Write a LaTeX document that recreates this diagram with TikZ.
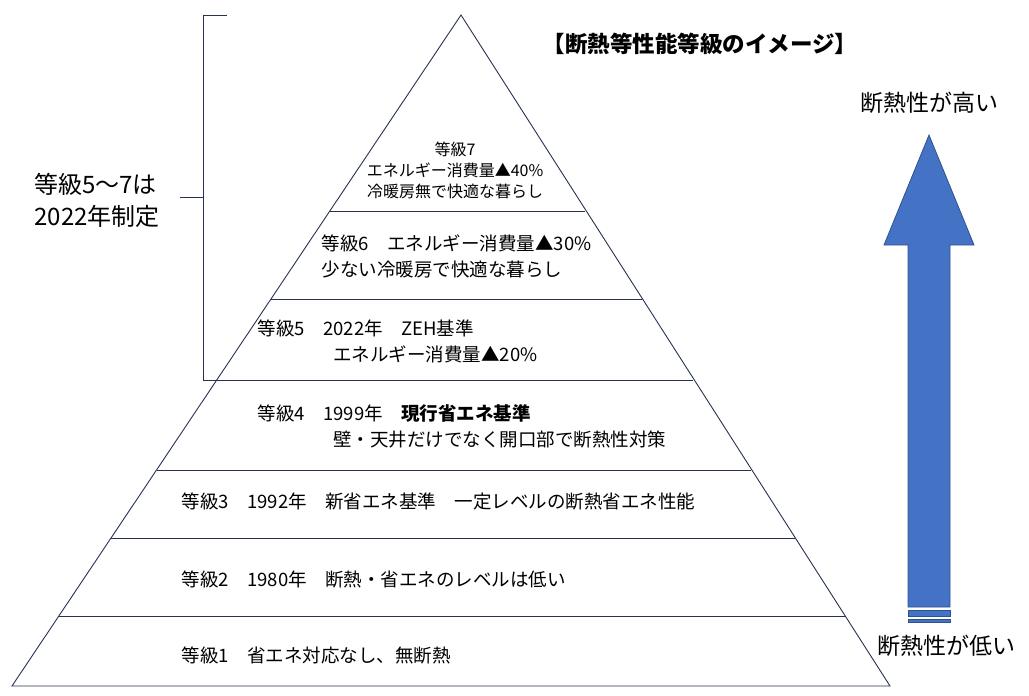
\documentclass[tikz,border=0pt]{standalone}
\usepackage{fontspec}
\setmainfont{Noto Sans CJK JP}
\begin{document}
\begin{tikzpicture}[x=1pt,y=-1pt,
  layer/.style={draw={rgb,255:red,40;green,50;blue,80},line width=0.9pt},
  txt/.style={font=\fontsize{18.5}{26}\selectfont,align=left,anchor=west},
  arr/.style={fill={rgb,255:red,68;green,114;blue,196},draw={rgb,255:red,47;green,82;blue,143},line width=0.8pt}]
\useasboundingbox (0,0) rectangle (1029,696);
% pyramid
\coordinate (top) at (461,15);
\coordinate (bl) at (12,686);
\coordinate (br) at (890,686);
\draw[layer] (top)--(br)--(bl)--cycle;
\draw[layer] (330,211)--(585,211);
\draw[layer] (271,299)--(642,299);
\draw[layer] (217,380)--(693,380);
\draw[layer] (157,470)--(751,470);
\draw[layer] (111,538)--(795,538);
\draw[layer] (59,616)--(845,616);
% labels
\node[txt,align=center,anchor=center,font=\fontsize{16}{21}\selectfont] (g7) at (455,170) {等級7\\エネルギー消費量▲40\%\\冷暖房無で快適な暮らし};
\node[txt] (g6) at (318,256) {等級6\quad エネルギー消費量▲30\%\\少ない冷暖房で快適な暮らし};
\node[txt] (g5) at (254,341) {等級5\quad 2022年\quad ZEH基準\\\hspace{4.1em}エネルギー消費量▲20\%};
\node[txt] (g4) at (254,426) {等級4\quad 1999年\quad \textbf{現行省エネ基準}\\\hspace{4.1em}壁・天井だけでなく開口部で断熱性対策};
\node[txt] (g3) at (178,502) {等級3\quad 1992年\quad 新省エネ基準\quad 一定レベルの断熱省エネ性能};
\node[txt] (g2) at (178,580) {等級2\quad 1980年\quad 断熱・省エネのレベルは低い};
\node[txt] (g1) at (178,656) {等級1\quad 省エネ対応なし、無断熱};
% bracket
\draw[layer] (227,15)--(203,15)--(203,380)--(217,380);
\draw[layer] (180,197)--(203,197);
\node[font=\fontsize{24}{32}\selectfont,align=left] (note) at (97,200) {等級5〜7は\\2022年制定};
% title
\node[font=\bfseries\fontsize{22.5}{26}\selectfont] (title) at (700,44) {【断熱等性能等級のイメージ】};
% arrow
\draw[arr] (908,607)--(908,245)--(884,245)--(929,135)--(974,245)--(950,245)--(950,607)--cycle;
\draw[arr] (908,610) rectangle (950,616);
\draw[arr] (908,619) rectangle (950,622);
\node[font=\fontsize{23}{26}\selectfont] (high) at (929,103) {断熱性が高い};
\node[font=\fontsize{23}{26}\selectfont] (low) at (946,646) {断熱性が低い};
\end{tikzpicture}
\end{document}
